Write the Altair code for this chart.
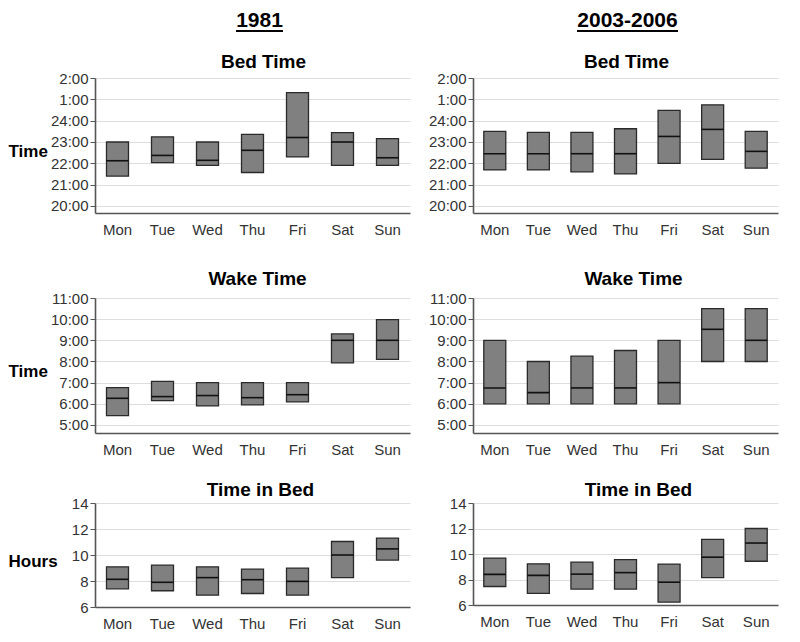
import altair as alt
import pandas as pd

days = ["Mon", "Tue", "Wed", "Thu", "Fri", "Sat", "Sun"]

# ---- 1981 (hours; bed time after midnight written as 24+) ----
bed_1981_lo = [21.40, 22.03, 21.90, 21.57, 22.30, 21.90, 21.90]
bed_1981_med = [22.12, 22.37, 22.14, 22.61, 23.21, 23.00, 22.26]
bed_1981_hi = [23.00, 23.24, 23.00, 23.36, 25.31, 23.44, 23.16]

wake_1981_lo = [5.44, 6.15, 5.90, 5.95, 6.09, 7.93, 8.10]
wake_1981_med = [6.26, 6.34, 6.39, 6.29, 6.43, 9.00, 9.00]
wake_1981_hi = [6.76, 7.06, 7.00, 7.00, 7.00, 9.30, 9.98]

tib_1981_lo = [7.40, 7.25, 6.91, 7.04, 6.91, 8.26, 9.61]
tib_1981_med = [8.13, 7.90, 8.26, 8.10, 7.97, 10.00, 10.47]
tib_1981_hi = [9.09, 9.22, 9.09, 8.91, 8.99, 11.04, 11.30]

# ---- 2003-2006 ----
bed_2003_lo = [21.69, 21.69, 21.60, 21.50, 22.00, 22.18, 21.77]
bed_2003_med = [22.45, 22.45, 22.45, 22.45, 23.26, 23.59, 22.56]
bed_2003_hi = [23.50, 23.45, 23.45, 23.62, 24.48, 24.74, 23.50]

wake_2003_lo = [6.00, 6.00, 6.00, 6.00, 6.00, 8.00, 8.00]
wake_2003_med = [6.75, 6.53, 6.75, 6.75, 7.00, 9.52, 9.00]
wake_2003_hi = [9.00, 8.00, 8.25, 8.52, 9.00, 10.50, 10.50]

tib_2003_lo = [7.45, 6.91, 7.25, 7.25, 6.23, 8.15, 9.43]
tib_2003_med = [8.40, 8.32, 8.42, 8.54, 7.79, 9.75, 10.86]
tib_2003_hi = [9.68, 9.23, 9.36, 9.56, 9.21, 11.14, 12.00]

bed_ticks = [20, 21, 22, 23, 24, 25, 26]
wake_ticks = [5, 6, 7, 8, 9, 10, 11]
tib_ticks = [6, 8, 10, 12, 14]

FONT = "Liberation Sans"
bed_expr = "datum.value > 24 ? (datum.value - 24) + ':00' : datum.value + ':00'"
wake_expr = "datum.value + ':00'"
tib_expr = "datum.label"


def panel(lo, med, hi, title, domain, ticks, label_expr, width, height,
          ytitle, title_dx, title_offset, header=None, header_dx=0, ul_w=0):
    df = pd.DataFrame({"day": days, "lo": lo, "med": med, "hi": hi})
    x = alt.X("day:N", sort=days,
              scale=alt.Scale(paddingInner=0, paddingOuter=0),
              axis=alt.Axis(title=None, labelAngle=0, ticks=False,
                            labelPadding=9, grid=False))
    yaxis = alt.Axis(values=ticks, labelExpr=label_expr, grid=True,
                     labelOverlap=False, labelPadding=2,
                     tickSize=5, title=ytitle, titleAngle=0,
                     titleAlign="left", titleBaseline="middle",
                     titleX=-87, titleY=height / 2 + 6,
                     titleFontSize=17, titleFontWeight="bold",
                     titleFont=FONT, titleColor="black")
    yscale = alt.Scale(domain=domain, nice=False, zero=False)
    bars = alt.Chart(df).mark_bar(size=22, color="#808080", stroke="#2a2a2a",
                                  strokeWidth=1.3).encode(
        x=x, y=alt.Y("lo:Q", scale=yscale, axis=yaxis), y2="hi:Q")
    med_tick = alt.Chart(df).mark_tick(orient="horizontal", size=22,
                                       thickness=1.6, color="#111111",
                                       opacity=1).encode(
        x=x, y=alt.Y("med:Q", scale=yscale, axis=yaxis))
    layers = [bars, med_tick]
    props = dict(width=width, height=height)
    if header:
        hdf = pd.DataFrame({"h": [header], "t": [title]})
        cx = width / 2 + header_dx
        htext = alt.Chart(hdf).mark_text(
            fontSize=21, fontWeight="bold", font=FONT, color="black",
            baseline="alphabetic", align="center").encode(
            x=alt.value(cx), y=alt.value(-51), text="h:N")
        hrule = alt.Chart(hdf).mark_rule(strokeWidth=2, color="black").encode(
            x=alt.value(cx - ul_w / 2), x2=alt.value(cx + ul_w / 2),
            y=alt.value(-47))
        ttext = alt.Chart(hdf).mark_text(
            fontSize=19, fontWeight="bold", font=FONT, color="black",
            baseline="alphabetic", align="center").encode(
            x=alt.value(width / 2 + title_dx), y=alt.value(-title_offset),
            text="t:N")
        layers += [htext, hrule, ttext]
    else:
        props["title"] = alt.TitleParams(
            text=title, fontSize=19, font=FONT, fontWeight="bold",
            color="black", anchor="middle", offset=title_offset, dx=title_dx)
    return alt.layer(*layers).properties(**props)


left = alt.vconcat(
    alt.vconcat(
        panel(bed_1981_lo, bed_1981_med, bed_1981_hi, "Bed Time",
              [19.67, 26], bed_ticks, bed_expr, 315, 135, "Time", 11, 10,
              header="1981", header_dx=7, ul_w=47),
        panel(wake_1981_lo, wake_1981_med, wake_1981_hi, "Wake Time",
              [4.62, 11], wake_ticks, wake_expr, 315, 135, "Time", 5, 2),
        spacing=33),
    panel(tib_1981_lo, tib_1981_med, tib_1981_hi, "Time in Bed",
          [6, 14], tib_ticks, tib_expr, 315, 104, "Hours", 8, -4),
    spacing=24)

right = alt.vconcat(
    alt.vconcat(
        panel(bed_2003_lo, bed_2003_med, bed_2003_hi, "Bed Time",
              [19.67, 26], bed_ticks, bed_expr, 305, 135, None, 1, 10,
              header="2003-2006", header_dx=2, ul_w=101),
        panel(wake_2003_lo, wake_2003_med, wake_2003_hi, "Wake Time",
              [4.62, 11], wake_ticks, wake_expr, 305, 135, None, 8, 2),
        spacing=33),
    panel(tib_2003_lo, tib_2003_med, tib_2003_hi, "Time in Bed",
          [6, 14], tib_ticks, tib_expr, 305, 102, None, 13, -4),
    spacing=24)

chart = alt.hconcat(left, right, spacing=18).properties(
    padding={"left": 0, "top": 2, "right": 5, "bottom": 0},
    background="white"
).configure_view(stroke=None).configure_axis(
    labelFont=FONT, labelFontSize=15, labelColor="#333333",
    domainColor="#555555", domainWidth=1.6, tickColor="#555555",
    gridColor="#dddddd", gridWidth=1
)

chart.save("out.html", embed_options={"renderer": "svg", "actions": False})
